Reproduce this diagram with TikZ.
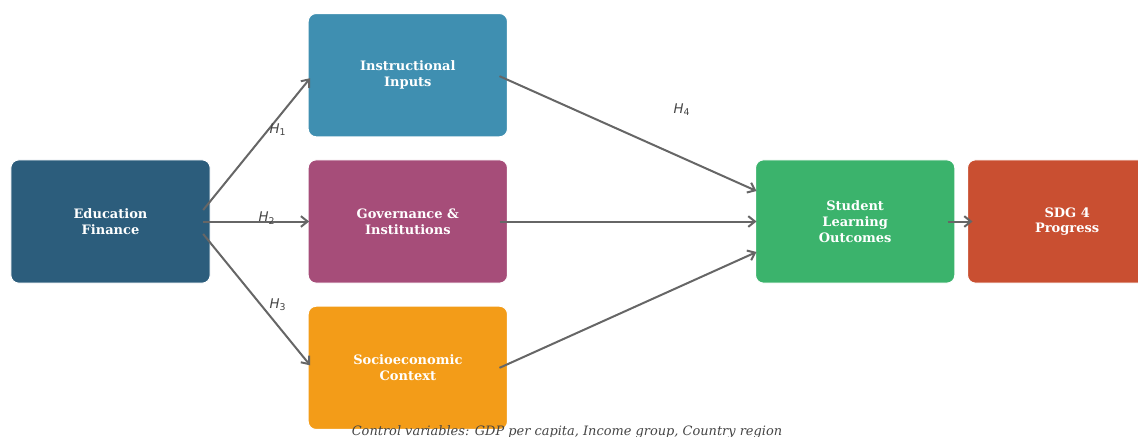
\documentclass[tikz,border=0pt]{standalone}
\usepackage{fontspec}
\setmainfont{DejaVu Serif}
\newfontfamily\hfont{DejaVu Sans}
\usepackage{tikz}
\usetikzlibrary{positioning, arrows.meta}

\definecolor{finblue}{HTML}{2C5D7C}
\definecolor{inpblue}{HTML}{3F8FB1}
\definecolor{govpurple}{HTML}{A64D79}
\definecolor{socorange}{HTML}{F39C18}
\definecolor{outgreen}{HTML}{3BB36C}
\definecolor{sdgred}{HTML}{C94F31}
\definecolor{linegray}{HTML}{666666}
\definecolor{labelgray}{HTML}{444444}

\tikzstyle{block} = [rectangle, rounded corners=6pt, minimum width=149.5pt, minimum height=92.5pt, outer sep=0pt, text centered, align=center, draw=white, line width=0.8pt, text=white, font=\fontsize{9.75}{11.75}\selectfont\bfseries]
\tikzstyle{arrow} = [draw=linegray, line width=1.5pt, -{Straight Barb[length=5pt,width=8pt]}]
\tikzstyle{hyp} = [text=labelgray, font=\fontsize{10}{12}\selectfont\hfont\itshape]

\newcommand{\hyp}[1]{H\textsubscript{\upshape #1}}

\begin{document}
\begin{tikzpicture}[x=0.75pt, y=-0.75pt, node distance=17.25pt and 73.5pt]

\useasboundingbox (0,0) rectangle (1138,436);
\clip (0,0) rectangle (1138,436);

\node (finance) [block, fill=finblue] at (110.5,221.5) {Education\\Finance};
\node (govern) [block, fill=govpurple, right=of finance] {Governance \&\\Institutions};
\node (inputs) [block, fill=inpblue, above=of govern] {Instructional\\Inputs};
\node (socio) [block, fill=socorange, below=of govern] {Socioeconomic\\Context};
\node (outcome) [block, fill=outgreen, right=186pt of govern] {Student\\Learning\\Outcomes};
\node (sdg) [block, fill=sdgred, right=9.5pt of outcome] {SDG 4\\Progress};

\draw [arrow] ([shift={(-7,-11.5)}]finance.east) -- ([shift={(2,3)}]inputs.west);
\draw [arrow] ([shift={(-7,0)}]finance.east) -- ([shift={(1,0)}]govern.west);
\draw [arrow] ([shift={(-7,12.5)}]finance.east) -- ([shift={(2,-2.5)}]socio.west);

\draw [arrow] ([shift={(-8,1)}]inputs.east) -- ([shift={(1,-30.5)}]outcome.west);
\draw [arrow] ([shift={(-8,0)}]govern.east) -- ([shift={(1,0)}]outcome.west);
\draw [arrow] ([shift={(-8,0)}]socio.east) -- ([shift={(1,30.5)}]outcome.west);

\draw [arrow] ([shift={(-7,0)}]outcome.east) -- ([shift={(5,0)}]sdg.west);

\node (h1) [hyp] at (278,130) {\hyp{1}};
\node (h2) [hyp] at (267,218) {\hyp{2}};
\node (h3) [hyp] at (278,305) {\hyp{3}};
\node (h4) [hyp] at (682,110) {\hyp{4}};

\node (controls) [text=labelgray, font=\fontsize{9.7}{11}\selectfont\itshape] at (567,432) {Control variables: GDP per capita, Income group, Country region};

\end{tikzpicture}
\end{document}
